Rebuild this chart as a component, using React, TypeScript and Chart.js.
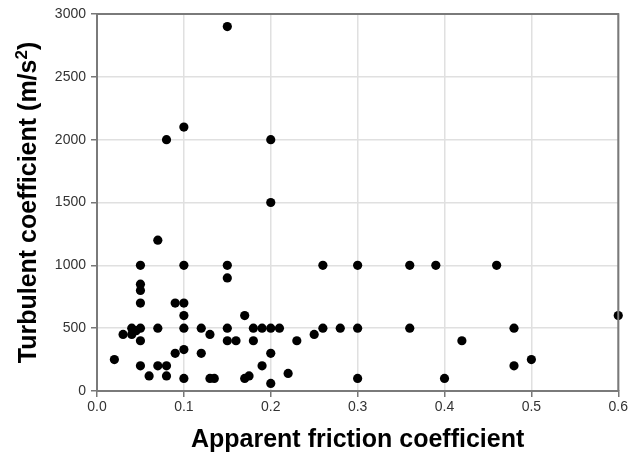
import React, { useEffect, useRef } from "react";
import { Chart, registerables } from "chart.js";

Chart.register(...registerables);

const frictionX: number[] = [
  0.07, 0.05, 0.1, 0.15, 0.15, 0.05, 0.05, 0.05, 0.09, 0.1,
  0.1, 0.04, 0.045, 0.04, 0.03, 0.05, 0.07, 0.1, 0.12, 0.13,
  0.15, 0.15, 0.05, 0.1, 0.09, 0.12, 0.02, 0.05, 0.07, 0.08,
  0.06, 0.08, 0.1, 0.13, 0.135, 0.26, 0.17, 0.18, 0.19, 0.2,
  0.21, 0.16, 0.18, 0.23, 0.25, 0.26, 0.28, 0.2, 0.19, 0.22,
  0.17, 0.175, 0.2, 0.3, 0.36, 0.39, 0.3, 0.36, 0.42, 0.3,
  0.4, 0.46, 0.6, 0.48, 0.5, 0.48, 0.15, 0.1, 0.08, 0.2,
  0.2,
];
const turbulentY: number[] = [
  1200, 1000, 1000, 1000, 900, 850, 800, 700, 700, 700,
  600, 500, 480, 450, 450, 500, 500, 500, 500, 450,
  500, 400, 400, 330, 300, 300, 250, 200, 200, 200,
  120, 120, 100, 100, 100, 1000, 600, 500, 500, 500,
  500, 400, 400, 400, 450, 500, 500, 300, 200, 140,
  100, 120, 60, 1000, 1000, 1000, 500, 500, 400, 100,
  100, 1000, 600, 500, 250, 200, 2900, 2100, 2000, 2000,
  1500,
];
const xTicks: number[] = [0, 0.1, 0.2, 0.3, 0.4, 0.5, 0.6];
const yTicks: number[] = [0, 500, 1000, 1500, 2000, 2500, 3000];
const yTitleMain = "Turbulent coefficient (m/s";
const yTitleSup = "2";
const yTitleEnd = ")";

const FONT = "Liberation Sans, Arial, sans-serif";

const boxPlugin = {
  id: "boxBorder",
  afterDatasetsDraw(chart: any) {
    const { ctx, chartArea } = chart;
    ctx.save();
    ctx.strokeStyle = "#7a7a7a";
    ctx.lineWidth = 2;
    ctx.beginPath();
    ctx.moveTo(chartArea.left, chartArea.top);
    ctx.lineTo(chartArea.right, chartArea.top);
    ctx.lineTo(chartArea.right, chartArea.bottom);
    ctx.stroke();
    ctx.restore();
  },
  afterDraw(chart: any) {
    const { ctx, chartArea } = chart;
    ctx.save();
    const cx = 28;
    const cy = (chartArea.top + chartArea.bottom) / 2;
    ctx.translate(cx, cy);
    ctx.rotate(-Math.PI / 2);
    ctx.fillStyle = "#000";
    ctx.textBaseline = "middle";
    ctx.textAlign = "left";
    const big = `bold 25px ${FONT}`;
    const small = `bold 17px ${FONT}`;
    ctx.font = big;
    const w1 = ctx.measureText(yTitleMain).width;
    const w3 = ctx.measureText(yTitleEnd).width;
    ctx.font = small;
    const w2 = ctx.measureText(yTitleSup).width;
    const total = w1 + w2 + w3;
    let x = -total / 2;
    ctx.font = big;
    ctx.fillText(yTitleMain, x, 1);
    x += w1;
    ctx.font = small;
    ctx.fillText(yTitleSup, x, -6);
    x += w2;
    ctx.font = big;
    ctx.fillText(yTitleEnd, x, 1);
    ctx.restore();
  },
};

export default function App() {
  const ref = useRef<HTMLCanvasElement | null>(null);
  useEffect(() => {
    document.body.style.margin = "0";
    if (!ref.current) return;
    const points = frictionX.map((x, i) => ({ x, y: turbulentY[i] }));
    const chart = new Chart(ref.current, {
      type: "scatter",
      data: {
        datasets: [
          {
            data: points,
            backgroundColor: "#000",
            borderColor: "#000",
            pointRadius: 4.6,
            pointHoverRadius: 4.6,
            borderWidth: 0,
            clip: false,
          },
        ],
      },
      plugins: [boxPlugin],
      options: {
        animation: false,
        responsive: false,
        maintainAspectRatio: false,
        layout: { padding: { top: 14, right: 10, left: 0, bottom: 0 } },
        plugins: { legend: { display: false }, tooltip: { enabled: false } },
        scales: {
          x: {
            type: "linear",
            min: 0,
            max: 0.6,
            afterFit: (s: any) => {
              s.height = 71;
            },
            afterBuildTicks: (s: any) => {
              s.ticks = xTicks.map((v) => ({ value: v }));
            },
            ticks: {
              color: "#333",
              font: { family: FONT, size: 14 },
              padding: 2,
              maxRotation: 0,
              callback: (v: any) => Number(v).toFixed(1),
            },
            grid: { color: "#e0e0e0", lineWidth: 1.5, tickColor: "#777", tickLength: 6 },
            border: { color: "#7a7a7a", width: 2 },
            title: {
              display: true,
              text: "Apparent friction coefficient",
              color: "#000",
              font: { family: FONT, size: 25, weight: "bold" },
              padding: { top: 0, bottom: 7 },
            },
          },
          y: {
            type: "linear",
            min: 0,
            max: 3000,
            afterFit: (s: any) => {
              s.width = 97;
            },
            afterBuildTicks: (s: any) => {
              s.ticks = yTicks.map((v) => ({ value: v }));
            },
            ticks: {
              color: "#333",
              font: { family: FONT, size: 14 },
              padding: 5,
              callback: (v: any) => String(v),
            },
            grid: { color: "#e0e0e0", lineWidth: 1.5, tickColor: "#777", tickLength: 6 },
            border: { color: "#7a7a7a", width: 2 },
            title: { display: false },
          },
        },
      },
    } as any);
    return () => chart.destroy();
  }, []);
  return (
    <div style={{ position: "absolute", left: 0, top: 0, width: 630, height: 462 }}>
      <canvas ref={ref} width={630} height={462} style={{ width: 630, height: 462 }} />
    </div>
  );
}
